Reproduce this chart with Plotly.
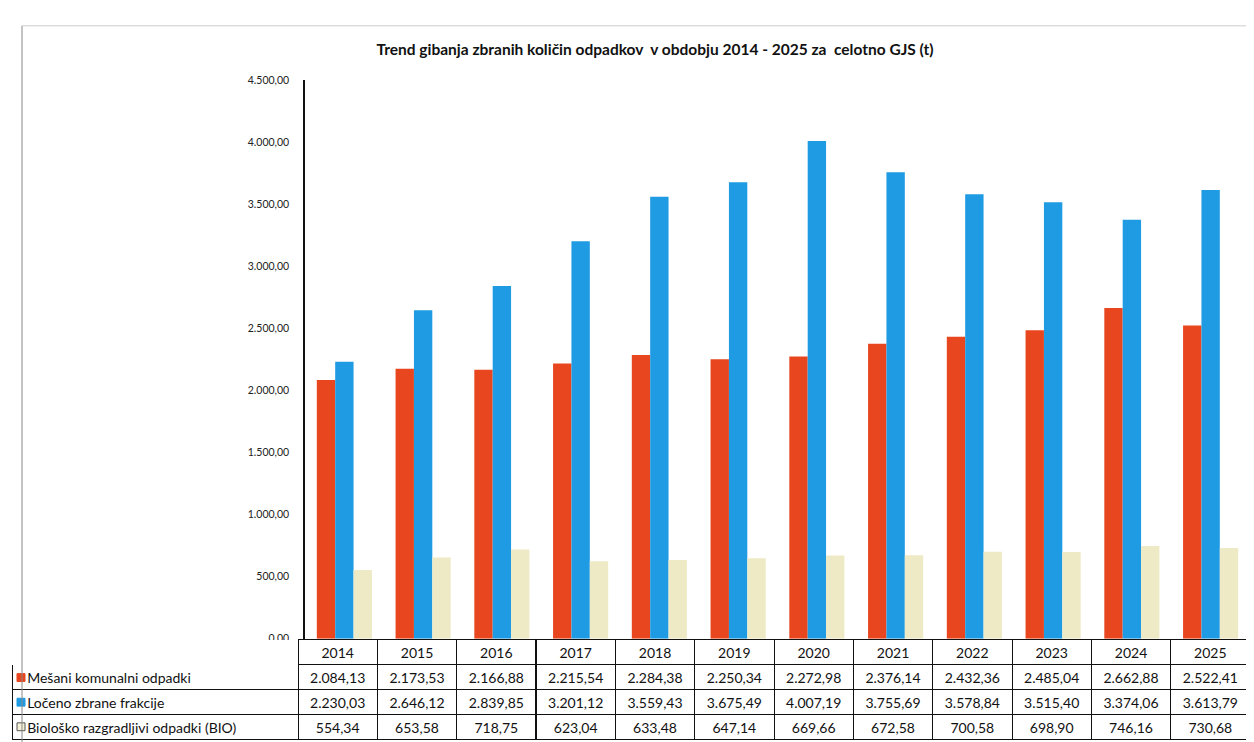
import plotly.graph_objects as go

years = ["2014", "2015", "2016", "2017", "2018", "2019", "2020", "2021", "2022", "2023", "2024", "2025"]
mesani = [2084.13, 2173.53, 2166.88, 2215.54, 2284.38, 2250.34, 2272.98, 2376.14, 2432.36, 2485.04, 2662.88, 2522.41]
loceno = [2230.03, 2646.12, 2839.85, 3201.12, 3559.43, 3675.49, 4007.19, 3755.69, 3578.84, 3515.40, 3374.06, 3613.79]
bio = [554.34, 653.58, 718.75, 623.04, 633.48, 647.14, 669.66, 672.58, 700.58, 698.90, 746.16, 730.68]
series_names = ["Mešani komunalni odpadki", "Ločeno zbrane frakcije", "Biološko razgradljivi odpadki (BIO)"]
y_ticks = [0, 500, 1000, 1500, 2000, 2500, 3000, 3500, 4000, 4500]

colors = ["#E8461F", "#1E9BE2", "#EFEAC6"]
key_fill = ["#E8461F", "#1E9BE2", "#F6F2D8"]
key_line = ["#E8461F", "#1E9BE2", "#555555"]
W, H = 1254, 742
FONT = "Lato, Open Sans, sans-serif"


def fmt(v):
    s = f"{v:,.2f}"
    return s.replace(",", "X").replace(".", ",").replace("X", ".")


fig = go.Figure()
for name, vals, col in zip(series_names, [mesani, loceno, bio], colors):
    fig.add_trace(go.Bar(
        x=years, y=vals, name=name,
        marker=dict(color=col, line=dict(width=0)),
        showlegend=False, hoverinfo="x+y+name",
        xaxis="x", yaxis="y",
    ))

# data table
label_col = ["\u00a0\u00a0" + name.replace(" ", "\u00a0") for name in series_names]
cell_values = [label_col] + [[fmt(m), fmt(l), fmt(b)] for m, l, b in zip(mesani, loceno, bio)]

px0, px1 = 297, 1242
tbl_x0 = 4
tbl_top = 636
row_h = 25
fig.add_trace(go.Table(
    domain=dict(x=[tbl_x0 / W, px1 / W], y=[0, (H - tbl_top) / H]),
    columnwidth=[px0 - 7 - tbl_x0] + [(px1 - px0 + 7) / 12] * 12,
    header=dict(
        values=[""] + years,
        height=row_h,
        fill=dict(color="white"),
        line=dict(color=["rgba(0,0,0,0)"] + ["#111111"] * 12, width=1),
        font=dict(family=FONT, size=14, color="#111111"),
        align="center",
    ),
    cells=dict(
        values=cell_values,
        height=row_h,
        fill=dict(color="white"),
        line=dict(color="#111111", width=1),
        font=dict(family=FONT, size=14, color="#111111"),
        align=["left"] + ["center"] * 12,
    ),
))

# legend keys inside the label column of the table (small squares)
shapes = []
for i, (fc, lc) in enumerate(zip(key_fill, key_line)):
    yc = tbl_top + row_h * (i + 1) + row_h / 2
    x0 = tbl_x0 + 5
    shapes.append(dict(
        type="rect", xref="paper", yref="paper",
        x0=x0 / W, x1=(x0 + 8) / W, y0=1 - (yc + 5) / H, y1=1 - (yc - 3) / H,
        fillcolor=fc, line=dict(color=lc, width=1),
    ))
shapes += [
    dict(type="line", xref="paper", yref="paper", x0=14 / W, x1=14 / W, y0=0, y1=1 - 12 / H,
         line=dict(color="#888888", width=1)),
    dict(type="line", xref="paper", yref="paper", x0=14 / W, x1=1, y0=1 - 12 / H, y1=1 - 12 / H,
         line=dict(color="#cccccc", width=1)),
]

fig.update_layout(
    width=W, height=H,
    margin=dict(l=0, r=0, t=0, b=0),
    paper_bgcolor="white",
    plot_bgcolor="white",
    barmode="group",
    bargap=0.3,
    bargroupgap=0.0,
    title=dict(
        text="<b>Trend gibanja zbranih količin odpadkov  v obdobju 2014 - 2025 za  celotno GJS (t)</b>",
        x=647 / W, xanchor="center", y=1 - 42 / H, yanchor="middle",
        font=dict(family=FONT, size=15.5, color="#111111"),
    ),
    xaxis=dict(
        domain=[px0 / W, px1 / W],
        showticklabels=False, showgrid=False, zeroline=False,
        showline=False, ticks="",
    ),
    yaxis=dict(
        domain=[(H - 635) / H, (H - 67) / H],
        range=[0, 4500],
        tickvals=y_ticks,
        ticktext=[fmt(v) for v in y_ticks],
        tickfont=dict(family=FONT, size=10.5, color="#222222"),
        showgrid=False, zeroline=False,
        showline=True, linecolor="#111111", linewidth=1.5,
        ticks="", ticklabelstandoff=12,
    ),
    shapes=shapes,
)

fig.write_html("out.html")
